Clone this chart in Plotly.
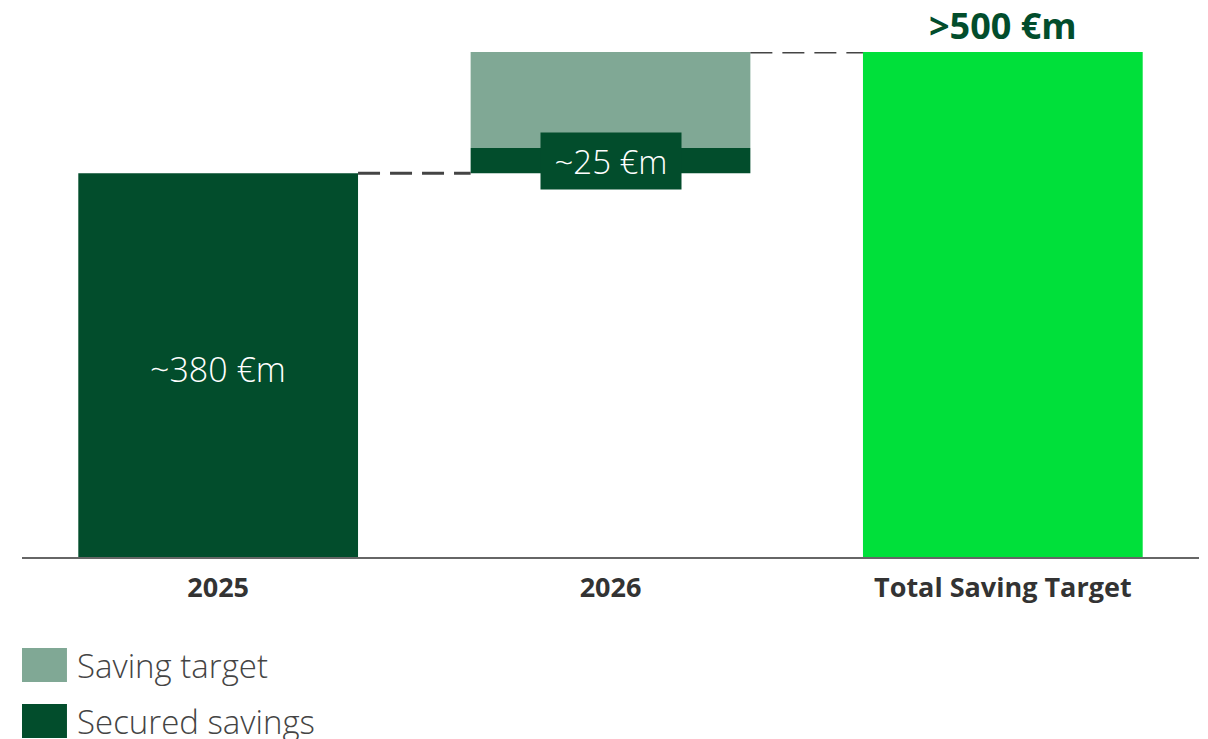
import plotly.graph_objects as go

DARK = "#024D2C"
SAGE = "#80A895"
BRIGHT = "#00E03A"
GREY = "#444444"

categories = ["2025", "2026", "Total Saving Target"]
secured_x = ["2025", "2026"]
secured_values = [380, 25]
secured_base = [0, 380]
target_x = ["2026"]
target_values = [95]
target_base = [405]
total_value = 500
labels = ["~380 €m", "~25 €m", ">500 €m"]
legend_names = ["Saving target", "Secured savings"]

BAR_W = 0.713
FONT = "Open Sans, sans-serif"

fig = go.Figure()
fig.add_trace(go.Bar(x=secured_x, y=secured_values, base=secured_base,
                     marker=dict(color=DARK, line_width=0), width=BAR_W,
                     name="Secured savings"))
fig.add_trace(go.Bar(x=target_x, y=target_values, base=target_base,
                     marker=dict(color=SAGE, line_width=0), width=BAR_W,
                     name="Saving target"))
fig.add_trace(go.Bar(x=[categories[2]], y=[total_value],
                     marker=dict(color=BRIGHT, line_width=0), width=BAR_W,
                     name="Total"))

# dashed connectors between bars
for i, level in [(0, secured_values[0]), (1, total_value)]:
    fig.add_shape(type="line", xref="x", yref="y",
                  x0=i + BAR_W / 2, x1=i + 1 - BAR_W / 2, y0=level, y1=level,
                  line=dict(color=GREY, width=3, dash="22px,10px"))

# value labels (category index positions)
fig.add_annotation(x=0, y=secured_values[0] / 2, text=labels[0],
                   showarrow=False, yshift=-4,
                   font=dict(size=34, color="white", weight=300))
fig.add_annotation(x=1, y=secured_base[1] + secured_values[1] / 2,
                   text=labels[1], showarrow=False, bgcolor=DARK,
                   width=138, height=54,
                   font=dict(size=33, color="white", weight=300))
fig.add_annotation(x=2, y=total_value, text=labels[2],
                   showarrow=False, yanchor="bottom", yshift=0,
                   font=dict(size=36, color=DARK, weight="bold"))

# legend drawn by hand (large swatches)
for k, (name, col) in enumerate(zip(legend_names, [SAGE, DARK])):
    top = -0.180 - k * 0.111
    fig.add_shape(type="rect", xref="paper", yref="paper",
                  x0=0, x1=0.0382, y0=top, y1=top - 0.0675,
                  fillcolor=col, line_width=0)
    fig.add_annotation(xref="paper", yref="paper", x=0.045, y=top - 0.034,
                       yanchor="middle", text=name, showarrow=False,
                       xanchor="left",
                       font=dict(size=33, color=GREY, weight=300))

fig.update_layout(
    width=1200, height=731,
    margin=dict(l=14, r=9, t=44, b=182, autoexpand=False),
    plot_bgcolor="white", paper_bgcolor="white",
    barmode="overlay", showlegend=False,
    font=dict(family=FONT),
    xaxis=dict(type="category", categoryorder="array",
               categoryarray=categories, range=[-0.5, 2.5],
               showline=True, linecolor="#666666", linewidth=2,
               ticks="", ticklabelstandoff=6, automargin=False,
               tickfont=dict(size=27, color="#333333", weight="bold")),
    yaxis=dict(range=[0, 500], visible=False, automargin=False),
)

fig.write_html("out.html")
